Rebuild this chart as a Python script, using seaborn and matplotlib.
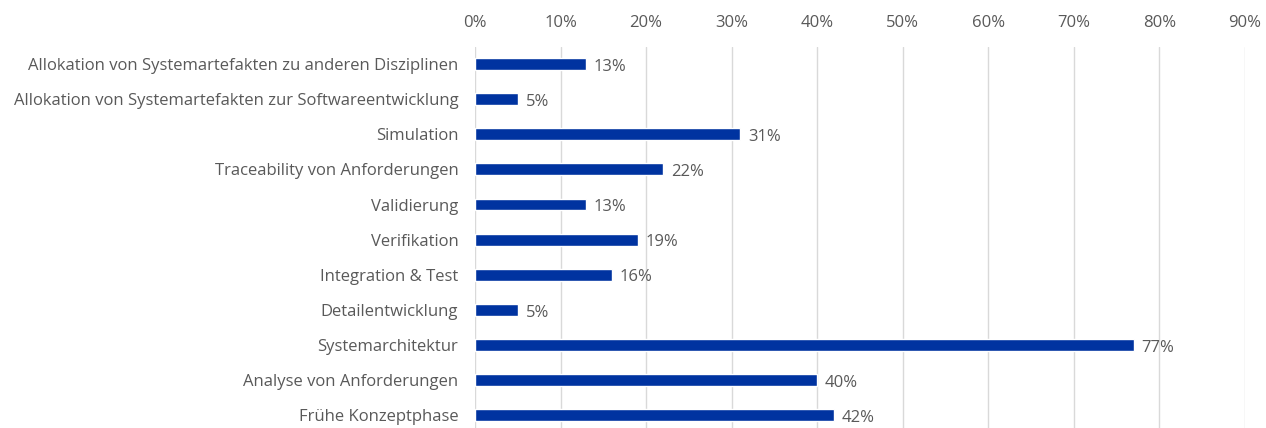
import matplotlib
matplotlib.use("Agg")
import matplotlib.pyplot as plt
import seaborn as sns
import pandas as pd

categories = [
    "Allokation von Systemartefakten zu anderen Disziplinen",
    "Allokation von Systemartefakten zur Softwareentwicklung",
    "Simulation",
    "Traceability von Anforderungen",
    "Validierung",
    "Verifikation",
    "Integration & Test",
    "Detailentwicklung",
    "Systemarchitektur",
    "Analyse von Anforderungen",
    "Frühe Konzeptphase",
]
values = [0.13, 0.05, 0.31, 0.22, 0.13, 0.19, 0.16, 0.05, 0.77, 0.40, 0.42]
labels = ["13%", "5%", "31%", "22%", "13%", "19%", "16%", "5%", "77%", "40%", "42%"]
xticks = [0.0, 0.1, 0.2, 0.3, 0.4, 0.5, 0.6, 0.7, 0.8, 0.9]

sns.set_style("white")
plt.rcParams['font.family'] = ['Open Sans', 'DejaVu Sans']

df = pd.DataFrame({"category": categories, "value": values})

fig = plt.figure(figsize=(12.66, 4.28), dpi=100)
ax = fig.add_axes([0.3752, 0.0, 0.6082, 0.891])

text_color = "#595959"
fs = 12.0
sns.barplot(data=df, x="value", y="category", orient="h", color="#0033A0",
            width=0.34, saturation=1, ax=ax, zorder=3)

for i, (v, lab) in enumerate(zip(values, labels)):
    ax.text(v + 0.009, i + 0.08, lab, va="center", ha="left", fontsize=fs, color=text_color)

ax.set_xlim(0, 0.9)
ax.set_ylim(10.37, -0.5)
ax.set_xticks(xticks)
ax.set_xticklabels([f"{int(round(t * 100))}%" for t in xticks])
ax.xaxis.tick_top()
ax.tick_params(axis="x", length=0, pad=11, labelsize=fs, colors=text_color)
ax.tick_params(axis="y", length=0, pad=12, labelsize=fs, colors=text_color)
ax.set_xlabel("")
ax.set_ylabel("")
ax.grid(axis="x", color="#d9d9d9", linewidth=1, zorder=0)
ax.grid(axis="y", visible=False)
for s in ax.spines.values():
    s.set_visible(False)

fig.savefig("out.png", dpi=100)
plt.close(fig)
